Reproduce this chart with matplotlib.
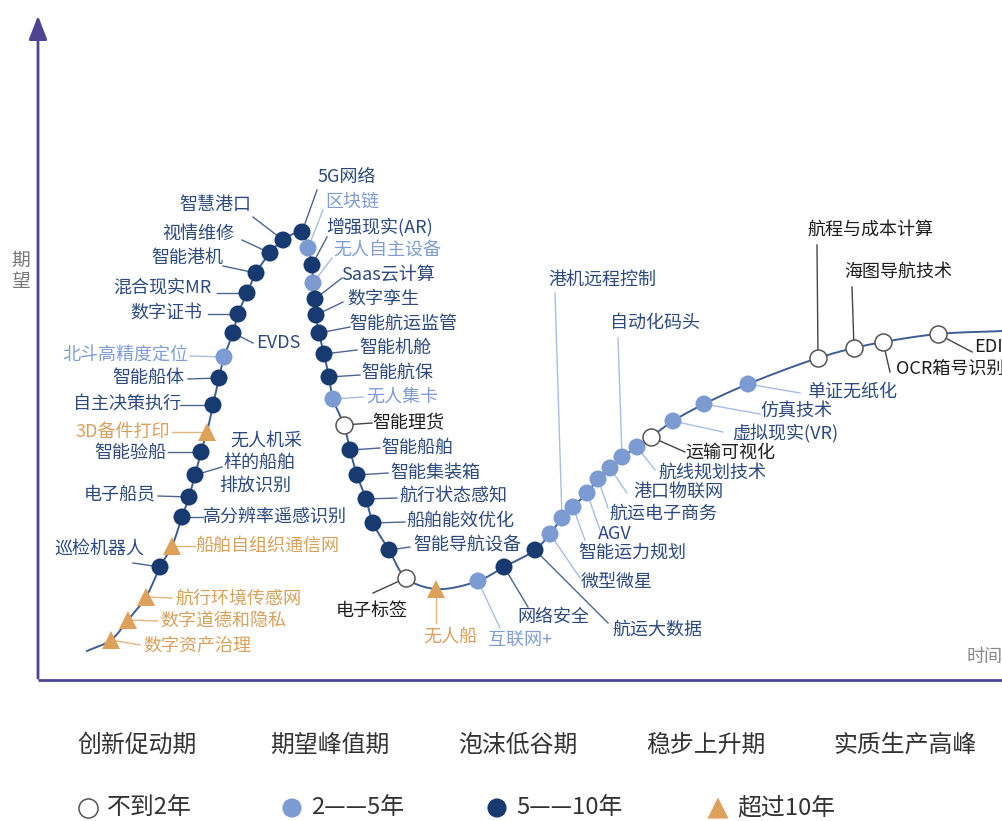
import numpy as np
import matplotlib
matplotlib.use("Agg")
import matplotlib.pyplot as plt

plt.rcParams["font.family"] = ["Noto Sans CJK SC", "DejaVu Sans"]

# technologies along the hype curve (pixel-space positions)
names = ["数字资产治理", "数字道德和隐私", "航行环境传感网", "巡检机器人", "船舶自组织通信网",
         "高分辨率遥感识别", "电子船员", "无人机采样的船舶排放识别", "智能验船", "3D备件打印",
         "自主决策执行", "智能船体", "北斗高精度定位", "EVDS", "数字证书", "混合现实MR",
         "智能港机", "视情维修", "智慧港口", "5G网络", "区块链", "增强现实(AR)", "无人自主设备",
         "Saas云计算", "数字孪生", "智能航运监管", "智能机舱", "智能航保", "无人集卡", "智能理货",
         "智能船舶", "智能集装箱", "航行状态感知", "船舶能效优化", "智能导航设备", "电子标签",
         "无人船", "互联网+", "网络安全", "航运大数据", "微型微星", "港机远程控制", "智能运力规划",
         "AGV", "航运电子商务", "港口物联网", "自动化码头", "航线规划技术", "运输可视化",
         "虚拟现实(VR)", "仿真技术", "单证无纸化", "航程与成本计算", "海图导航技术",
         "OCR箱号识别", "EDI"]
t_pos = [111, 128, 146, 160, 172, 182, 189, 195, 201, 207,
         213, 219, 224, 233, 238, 247, 256, 270, 283, 302,
         308, 312, 313, 315, 316, 319, 324, 329, 333, 344,
         350, 357, 366, 373, 389, 406, 436, 478, 504, 535,
         550, 562, 573, 587, 598, 610, 622, 637, 651, 673,
         704, 748, 818, 854, 883, 938]
expect = [640, 620, 597, 567, 546, 517, 497, 475, 452, 432,
          405, 378, 357, 333, 314, 293, 273, 253, 240, 232,
          248, 265, 283, 299, 315, 333, 354, 377, 399, 425,
          450, 475, 499, 523, 550, 578, 589, 581, 567, 550,
          534, 518, 507, 493, 479, 468, 457, 447, 437, 421,
          404, 384, 358, 348, 342, 334]
# O: <2 years, M: 2-5 years, H: 5-10 years, T: >10 years
horizon = list("TTTHTHHHHT" "HHMHHHHHHH" "MHMHHHHHMO" "HHHHHO" "TMHHMMMMMMMMOMMMOOOO")

curve_start = (87, 651)
curve_end = (1003, 331)

phases = ["创新促动期", "期望峰值期", "泡沫低谷期", "稳步上升期", "实质生产高峰"]
phase_x = [137, 330, 518, 706, 905]
legend_labels = ["不到2年", "2——5年", "5——10年", "超过10年"]

# label layout: text centre, leader end
label_xy = [(197, 645), (223, 621), (238, 599), (99, 550), (267, 546),
            (275, 517), (120, 494), None, (130, 453), (123, 432),
            (127, 404), (148, 378), (125, 355), (278, 343), (166, 313), (162, 287),
            (187, 258), (198, 234), (215, 205), (347, 177), (352, 202), (380, 227), (387, 251),
            (388, 275), (383, 299), (403, 324), (395, 348), (397, 373), (402, 397), (408, 423),
            (417, 448), (435, 473), (453, 497), (460, 521), (467, 546), (372, 611),
            (450, 637), (520, 640), (553, 617), (657, 630), (617, 582), (602, 280), (632, 553),
            (615, 534), (663, 514), (678, 492), (655, 323), (712, 473), (730, 453),
            (785, 433), (796, 412), (852, 392), (870, 230), (898, 272),
            (950, 370), (988, 347)]
leader_end = [(140, 645), (158, 621), (172, 598), (133, 563), (195, 546),
              (203, 517), (158, 496), (222, 467), (168, 452), (172, 432),
              (180, 405), (188, 379), (190, 356), (253, 343), (208, 314), (217, 293),
              (223, 266), (242, 240), (253, 217), (317, 190), (323, 210), (327, 237), (332, 258),
              (342, 278), (343, 302), (350, 327), (357, 350), (360, 375), (363, 397), (372, 423),
              (380, 448), (388, 473), (397, 498), (405, 522), (410, 547), (373, 593),
              (436, 623), (500, 628), (528, 607), (608, 623), (580, 578), (555, 293), (585, 540),
              (600, 530), (608, 508), (627, 493), (618, 338), (655, 470), (685, 452),
              (723, 432), (760, 414), (800, 393), (817, 245), (852, 287),
              (890, 372), (972, 352)]

NAVY = "#173a70"
LIGHT = "#7b9bd2"
ORANGE = "#dda15c"
TXT_NAVY = "#2c4a7e"
TXT_LIGHT = "#7e9dd4"
TXT_ORANGE = "#d9a05b"
style = {
    "O": dict(marker="o", s=150, facecolor="white", edgecolor="#555555", lw=1.1),
    "M": dict(marker="o", s=150, facecolor=LIGHT, edgecolor="none"),
    "H": dict(marker="o", s=150, facecolor=NAVY, edgecolor="none"),
    "T": dict(marker="^", s=170, facecolor=ORANGE, edgecolor="none"),
}
leader_col = {"O": "#444444", "M": "#a8bde4", "H": "#4d6590", "T": "#e3b47d"}
light_left = {"北斗高精度定位", "区块链", "无人自主设备", "无人集卡", "互联网+"}


def text_color(name, cat):
    if cat == "O":
        return "#1e1e1e"
    if cat == "T":
        return TXT_ORANGE
    if cat == "M" and name in light_left:
        return TXT_LIGHT
    return TXT_NAVY


def catmull_rom(pts, n=24):
    p = np.asarray(pts, float)
    p = np.vstack([2 * p[0] - p[1], p, 2 * p[-1] - p[-2]])
    out = []
    for i in range(1, len(p) - 2):
        p0, p1, p2, p3 = p[i - 1], p[i], p[i + 1], p[i + 2]
        t0 = 0.0
        t1 = t0 + max(np.linalg.norm(p1 - p0), 1e-6) ** 0.5
        t2 = t1 + max(np.linalg.norm(p2 - p1), 1e-6) ** 0.5
        t3 = t2 + max(np.linalg.norm(p3 - p2), 1e-6) ** 0.5
        t = np.linspace(t1, t2, n)[:, None]
        a1 = (t1 - t) / (t1 - t0) * p0 + (t - t0) / (t1 - t0) * p1
        a2 = (t2 - t) / (t2 - t1) * p1 + (t - t1) / (t2 - t1) * p2
        a3 = (t3 - t) / (t3 - t2) * p2 + (t - t2) / (t3 - t2) * p3
        b1 = (t2 - t) / (t2 - t0) * a1 + (t - t0) / (t2 - t0) * a2
        b2 = (t3 - t) / (t3 - t1) * a2 + (t - t1) / (t3 - t1) * a3
        out.append((t2 - t) / (t2 - t1) * b1 + (t - t1) / (t2 - t1) * b2)
    return np.vstack(out)


fig = plt.figure(figsize=(10.03, 8.21), dpi=100)
ax = fig.add_axes([0, 0, 1, 1])
ax.set_xlim(0, 1003)
ax.set_ylim(821, 0)
ax.axis("off")

# axes with arrow
AXC = "#4e4592"
ax.plot([38, 1003], [680, 680], color=AXC, lw=2.0, solid_capstyle="butt", zorder=1)
ax.annotate("", xy=(38, 13), xytext=(38, 681),
            arrowprops=dict(arrowstyle="-|>,head_length=0.9,head_width=0.35",
                            color=AXC, lw=2.0, mutation_scale=16))
ax.text(21, 271, "期\n望", color="#777777", fontsize=13.5, ha="center", va="center", linespacing=1.0)
ax.text(985, 657, "时间", color="#888888", fontsize=13, ha="center", va="center")

# hype curve
path = [curve_start] + list(zip(t_pos, expect)) + [curve_end]
cv = catmull_rom(path)
ax.plot(cv[:, 0], cv[:, 1], color="#3d5d95", lw=1.4, zorder=2, clip_on=False)

# leaders, markers, labels
for i, (nm, x, y, cat) in enumerate(zip(names, t_pos, expect, horizon)):
    ex, ey = leader_end[i]
    ax.plot([x, ex], [y, ey], color=leader_col[cat], lw=1.0, zorder=2)
    ax.scatter([x], [y], zorder=4, **style[cat])
    col = text_color(nm, cat)
    if label_xy[i] is None:
        for line, lx, ly in zip(["无人机采", "样的船舶", "排放识别"], [230, 223, 219], [442, 463, 486]):
            ax.text(lx, ly, line, color=col, fontsize=13, ha="left", va="center")
        continue
    lx, ly = label_xy[i]
    ax.text(lx, ly, nm, color=col, fontsize=13, ha="center", va="center", zorder=5)

# phase names
for ph, px in zip(phases, phase_x):
    ax.text(px, 745, ph, color="#333333", fontsize=17.2, ha="center", va="center")

# legend row
leg_x = [88, 292, 497, 718]
for cat, lx, lab in zip("OMHT", leg_x, legend_labels):
    st = dict(style[cat])
    st["s"] = 190 if cat != "T" else 230
    ax.scatter([lx], [808], clip_on=False, **st)
    ax.text(lx + 19, 808, lab, color="#333333", fontsize=17.2, ha="left", va="center")

fig.savefig("out.png", dpi=100)
